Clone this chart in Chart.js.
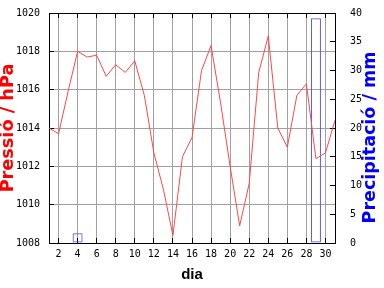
<!DOCTYPE html>
<html>
<head>
<meta charset="utf-8">
<script src="https://cdn.jsdelivr.net/npm/chart.js@4.4.0/dist/chart.umd.min.js"></script>
<style>
  html, body { margin: 0; padding: 0; background: #fff; }
</style>
</head>
<body>
<canvas id="chart" width="384" height="288"></canvas>
<script>
const days = [1, 2, 3, 4, 5, 6, 7, 8, 9, 10, 11, 12, 13, 14, 15, 16, 17, 18, 19, 20, 21, 22, 23, 24, 25, 26, 27, 28, 29, 30, 31];
const pressure = [1014.0, 1013.7, 1015.9, 1018.0, 1017.7, 1017.8, 1016.7, 1017.3, 1016.9, 1017.5,
                  1015.7, 1012.7, 1010.8, 1008.4, 1012.5, 1013.5, 1017.0, 1018.3, 1015.3, 1012.0,
                  1008.9, 1011.1, 1016.9, 1018.8, 1014.0, 1013.0, 1015.7, 1016.3, 1012.4, 1012.7, 1014.4];
const rain = [null, null, null, 1.7, null, null, null, null, null, null,
              null, null, null, null, null, null, null, null, null, null,
              null, null, null, null, null, null, null, null, 39.1, null, null];
const dayTicks = [2, 4, 6, 8, 10, 12, 14, 16, 18, 20, 22, 24, 26, 28, 30];

const grey = '#a0a0a0';
const tickFont = { family: 'DejaVu Sans Mono', size: 10 };

// títol de l'eix dret, llegit de baix a dalt com a l'original
const rightTitle = {
  id: 'rightTitle',
  afterDraw(chart) {
    const ctx = chart.ctx;
    ctx.save();
    ctx.translate(370, 137.5);
    ctx.rotate(-Math.PI / 2);
    ctx.font = 'bold 17.5px "DejaVu Sans"';
    ctx.fillStyle = '#0000ff';
    ctx.textAlign = 'center';
    ctx.textBaseline = 'middle';
    ctx.fillText('Precipitació / mm', 0, 0);
    ctx.restore();
  }
};

const evenTicks = s => { s.ticks = dayTicks.map(v => ({ value: v })); };
// amplada fixa i sense marge extra per les etiquetes
const fixWidth = s => { s.width = 49; s.paddingTop = 0; s.paddingBottom = 0; };

new Chart(document.getElementById('chart'), {
  data: {
    labels: days,
    datasets: [
      {
        type: 'line',
        label: 'Pressió',
        data: pressure,
        yAxisID: 'y',
        borderColor: '#ff4848',
        borderWidth: 1,
        pointRadius: 0,
        tension: 0,
        fill: false,
        order: 0
      },
      {
        type: 'bar',
        label: 'Precipitació',
        data: rain,
        yAxisID: 'y2',
        borderColor: '#5050ff',
        backgroundColor: 'rgba(0,0,0,0)',
        borderWidth: 1,
        borderSkipped: false,
        categoryPercentage: 1,
        barPercentage: 1.05,
        order: 1
      }
    ]
  },
  options: {
    responsive: false,
    animation: false,
    layout: { padding: 0, autoPadding: false },
    plugins: {
      legend: { display: false },
      tooltip: { enabled: false }
    },
    scales: {
      x: {
        type: 'linear',
        position: 'bottom',
        min: 1,
        max: 31,
        offset: false,
        afterBuildTicks: evenTicks,
        afterFit: s => { s.height = 45; },
        grid: { offset: false, color: grey, tickColor: '#000', tickLength: -5 },
        border: { color: '#000' },
        ticks: { color: '#000', font: tickFont, padding: 10, maxRotation: 0, autoSkip: false },
        title: {
          display: true,
          text: 'dia',
          color: '#000',
          font: { family: 'Liberation Sans', size: 15, weight: 'bold' },
          padding: { top: 0, bottom: 4 }
        }
      },
      x2: {
        type: 'linear',
        position: 'top',
        min: 1,
        max: 31,
        offset: false,
        afterBuildTicks: evenTicks,
        afterFit: s => { s.height = 13; },
        grid: { offset: false, drawOnChartArea: false, tickColor: '#000', tickLength: -5 },
        border: { color: '#000' },
        ticks: { display: false }
      },
      y: {
        position: 'left',
        min: 1008,
        max: 1020,
        afterFit: fixWidth,
        grid: { color: grey, tickColor: '#000', tickLength: -5 },
        border: { color: '#000' },
        ticks: { stepSize: 2, color: '#000', font: tickFont, padding: 14, callback: v => String(v) },
        title: {
          display: true,
          text: 'Pressió / hPa',
          color: '#ff0000',
          font: { family: 'DejaVu Sans', size: 17.7, weight: 'bold', lineHeight: 1 },
          padding: { top: 0, bottom: 0 }
        }
      },
      y2: {
        position: 'right',
        min: 0,
        max: 40,
        afterFit: fixWidth,
        grid: { drawOnChartArea: false, tickColor: '#000', tickLength: -5 },
        border: { color: '#000' },
        ticks: { stepSize: 5, color: '#000', font: tickFont, padding: 20, callback: v => String(v) }
      }
    }
  },
  plugins: [rightTitle]
});
</script>
</body>
</html>
